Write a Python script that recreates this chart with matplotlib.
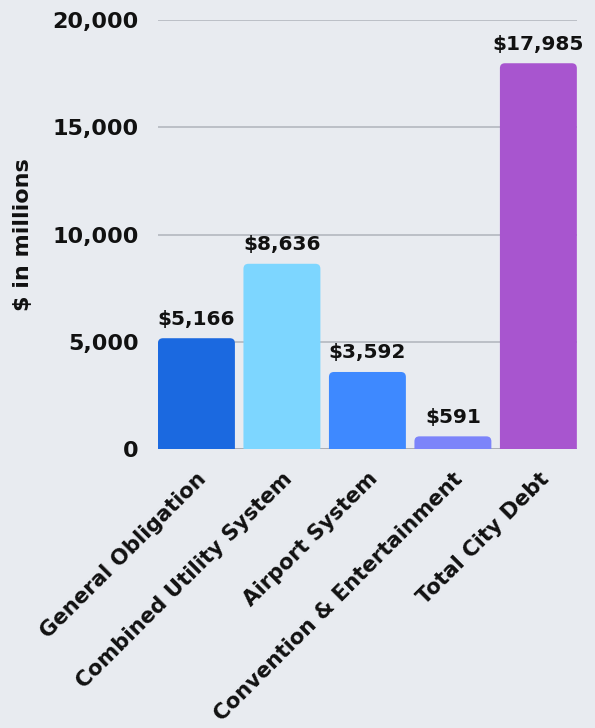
import matplotlib
matplotlib.use("Agg")
import matplotlib.pyplot as plt
from matplotlib.patches import FancyBboxPatch
from matplotlib.ticker import FuncFormatter

categories = ["General Obligation", "Combined Utility System", "Airport System",
              "Convention & Entertainment", "Total City Debt"]
values = [5166, 8636, 3592, 591, 17985]
colors = ["#1b69e0", "#7dd6ff", "#3e89ff", "#7c84fa", "#a855cf"]
yticks = [0, 5000, 10000, 15000, 20000]
ylabel = "$ in millions"

bg = "#e8ebf0"
plt.rcParams['font.family'] = ['DejaVu Sans']
fs = 16

fig = plt.figure(figsize=(5.95, 7.28), dpi=100, facecolor=bg)
ax = fig.add_axes([0.2655, 0.3832, 0.704, 0.5893], facecolor=bg)

ax.set_xlim(-0.45, 4.45)
ax.set_ylim(0, 20000)

width = 0.9
fig.canvas.draw()
bbox = ax.get_window_extent()
xpx = bbox.width / 4.9
ypx = bbox.height / 20000
r_px = 5
aspect = (1 / ypx) / (1 / xpx)
for i, (v, c) in enumerate(zip(values, colors)):
    p = FancyBboxPatch((i - width / 2, -400), width, v + 400,
                       boxstyle=f"round,pad=0,rounding_size={r_px / xpx}",
                       mutation_aspect=aspect, facecolor=c, edgecolor="none",
                       zorder=3)
    ax.add_patch(p)
    ax.text(i, v + 450, f"${v:,}", ha="center", va="bottom",
            fontsize=14.5, fontweight="bold", color="#111111", zorder=4)

ax.set_yticks(yticks)
ax.yaxis.set_major_formatter(FuncFormatter(lambda x, _: f"{int(x):,}"))
ax.grid(axis="y", color="#b4b8bf", linewidth=1.2, zorder=0)
ax.axhline(0, color="#6a6e75", linewidth=1.2, zorder=1)
for s in ax.spines.values():
    s.set_visible(False)
ax.tick_params(axis="y", length=0, pad=13.7, labelsize=fs, labelcolor="#111111")
ax.tick_params(axis="x", length=0, pad=14)
for lab in ax.get_yticklabels():
    lab.set_fontweight("bold")

ax.set_xticks(range(len(categories)))
ax.set_xticklabels(categories, rotation=45, ha="right", rotation_mode="anchor",
                   fontsize=15.3, fontweight="bold", color="#111111")
ax.set_ylabel(ylabel, fontsize=fs, fontweight="bold", color="#111111", labelpad=14)

fig.savefig("out.png", dpi=100, facecolor=bg)
